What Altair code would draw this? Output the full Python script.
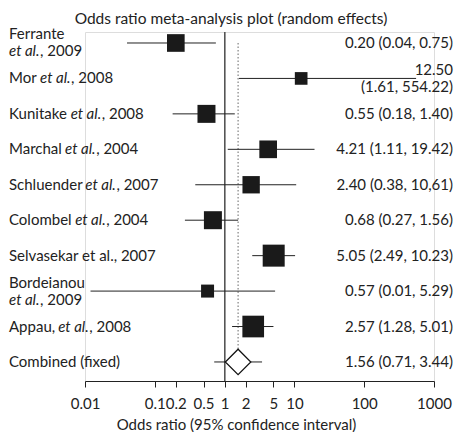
import altair as alt
import pandas as pd

# ---------------- data ----------------
labels = ["Ferrante\n*et al.*, 2009", "Mor *et al.*, 2008", "Kunitake *et al.*, 2008",
          "Marchal *et al.*, 2004", "Schluender *et al.*, 2007", "Colombel *et al.*, 2004",
          "Selvasekar et al., 2007", "Bordeianou\n*et al.*, 2009", "Appau, *et al.*, 2008",
          "Combined (fixed)"]
odds = [0.20, 12.50, 0.55, 4.21, 2.40, 0.68, 5.05, 0.57, 2.57, 1.56]
ci_low = [0.04, 1.61, 0.18, 1.11, 0.38, 0.27, 2.49, 0.012, 1.28, 0.71]
ci_high = [0.75, 554.22, 1.40, 19.42, 10.61, 1.56, 10.23, 5.29, 5.01, 3.44]
weights = [11.1, 5.7, 11.5, 11.1, 10.7, 11.5, 17.2, 6.0, 16.7]
result_text = ["0.20 (0.04, 0.75)", "12.50\n(1.61, 554.22)", "0.55 (0.18, 1.40)",
               "4.21 (1.11, 19.42)", "2.40 (0.38, 10,61)", "0.68 (0.27, 1.56)",
               "5.05 (2.49, 10.23)", "0.57 (0.01, 5.29)", "2.57 (1.28, 5.01)",
               "1.56 (0.71, 3.44)"]
tick_values = [0.01, 0.1, 0.2, 0.5, 1, 2, 5, 10, 100, 1000]
title_text = "Odds ratio meta-analysis plot (random effects)"
x_title = "Odds ratio (95% confidence interval)"

# ---------------- layout ----------------
FONT = "Lato"
FS = 15
PW, PH = 349, 349
LINE_OFF = 0.24          # half line spacing in row units for two-line labels
LEFT_X = -76
RIGHT_X = 368
TXT = "#222222"

CW = {' ': .25, '.': .21, ',': .21, '(': .29, ')': .29,
      'a': .49, 'b': .55, 'c': .45, 'd': .55, 'e': .53, 'f': .32, 'h': .55,
      'i': .24, 'k': .50, 'l': .24, 'm': .83, 'n': .55, 'o': .55, 'p': .55,
      'r': .37, 's': .43, 't': .35, 'u': .55, 'v': .5, 'x': .49, 'w': .76,
      'A': .68, 'B': .65, 'C': .67, 'F': .53, 'K': .65, 'M': .90, 'S': .52}


def text_width(s):
    return sum(CW.get(c, .58) for c in s) * FS


n_st = len(weights)
studies = pd.DataFrame({"row": list(range(n_st)), "odds": odds[:n_st],
                        "lo": ci_low[:n_st], "hi": ci_high[:n_st], "w": weights})
combined = pd.DataFrame({"row": [n_st], "odds": [odds[n_st]],
                         "lo": [ci_low[n_st]], "hi": [ci_high[n_st]]})

segs = []
for i, lab in enumerate(labels):
    lines = lab.split("\n")
    n = len(lines)
    for j, line in enumerate(lines):
        yy = i + (j - (n - 1) / 2) * 2 * LINE_OFF
        xoff = 0.0
        for k, part in enumerate(line.split("*")):
            if part:
                segs.append({"y": yy, "xpx": LEFT_X + xoff, "t": part,
                             "it": k % 2 == 1})
                xoff += text_width(part)
seg_df = pd.DataFrame(segs)

rt = []
for i, s in enumerate(result_text):
    lines = s.split("\n")
    n = len(lines)
    for j, line in enumerate(lines):
        rt.append({"y": i + (j - (n - 1) / 2) * 2 * LINE_OFF, "t": line})
rt_df = pd.DataFrame(rt)

xscale = alt.Scale(type="log", domain=[0.01, 1000], nice=False)
yscale = alt.Scale(domain=[-0.31, 9.537], reverse=True, nice=False, zero=False)

xaxis = alt.Axis(values=tick_values, format="~g", title=x_title, grid=False,
                 domainColor="#222", tickColor="#222", tickSize=6,
                 labelFont=FONT, labelFontSize=FS, labelColor=TXT,
                 labelPadding=9, labelOverlap=False, labelFlush=False, labelBound=False,
                 titleFont=FONT, titleFontSize=FS, titleFontWeight="normal",
                 titleColor=TXT, titleX=151, titleY=43, titleAlign="center",
                 titleBaseline="middle")

one_line = alt.Chart(studies).mark_rule(color="#555", strokeWidth=1).encode(
    x=alt.datum(1, scale=xscale, axis=xaxis), y=alt.value(0), y2=alt.value(PH))

dotted = alt.Chart(combined).mark_rule(color="#666", strokeWidth=1,
                                       strokeDash=[1.5, 2]).encode(
    x=alt.X("odds:Q", scale=xscale, axis=xaxis),
    y=alt.datum(0, scale=yscale, axis=None), y2=alt.datum(n_st))

ci_st = alt.Chart(studies).mark_rule(color="#222", strokeWidth=1).encode(
    x=alt.X("lo:Q", scale=xscale, axis=xaxis), x2="hi:Q",
    y=alt.Y("row:Q", scale=yscale, axis=None))

ci_cb = alt.Chart(combined).mark_rule(color="#222", strokeWidth=1).encode(
    x=alt.X("lo:Q", scale=xscale, axis=xaxis), x2="hi:Q",
    y=alt.Y("row:Q", scale=yscale, axis=None))

squares = alt.Chart(studies).mark_square(color="#1a1a1a", opacity=1).encode(
    x=alt.X("odds:Q", scale=xscale, axis=xaxis),
    y=alt.Y("row:Q", scale=yscale, axis=None),
    size=alt.Size("w:Q", scale=alt.Scale(domain=[0, 17.2], range=[0, 484], zero=True),
                  legend=None))

diamond = alt.Chart(combined).mark_point(shape="diamond", size=650, filled=True,
                                         fill="white", stroke="#111", strokeWidth=1.2,
                                         opacity=1).encode(
    x=alt.X("odds:Q", scale=xscale, axis=xaxis),
    y=alt.Y("row:Q", scale=yscale, axis=None))

lab_norm = alt.Chart(seg_df).transform_filter("!datum.it").mark_text(
    align="left", baseline="middle", font=FONT, fontSize=FS, color=TXT).encode(
    x=alt.X("xpx:Q", scale=None), y=alt.Y("y:Q", scale=yscale, axis=None), text="t:N")

lab_ital = alt.Chart(seg_df).transform_filter("datum.it").mark_text(
    align="left", baseline="middle", font=FONT, fontSize=FS, fontStyle="italic",
    color=TXT).encode(
    x=alt.X("xpx:Q", scale=None), y=alt.Y("y:Q", scale=yscale, axis=None), text="t:N")

res_txt = alt.Chart(rt_df).mark_text(align="right", baseline="middle", font=FONT,
                                     fontSize=FS, color=TXT).encode(
    x=alt.value(RIGHT_X), y=alt.Y("y:Q", scale=yscale, axis=None), text="t:N")

title = alt.Chart(pd.DataFrame({"t": [title_text]})).mark_text(
    align="center", baseline="middle", font=FONT, fontSize=15.5, color=TXT).encode(
    x=alt.value(146), y=alt.value(-13), text="t:N")

chart = alt.layer(one_line, dotted, ci_st, ci_cb, squares, diamond,
                  lab_norm, lab_ital, res_txt, title).properties(
    width=PW, height=PH,
    autosize=alt.AutoSizeParams(type="none"),
    padding={"left": 77, "top": 24, "right": 20, "bottom": 51},
).configure_view(stroke=None).configure(background="white")

chart.save("out.html", embed_options={"renderer": "svg", "actions": False})
